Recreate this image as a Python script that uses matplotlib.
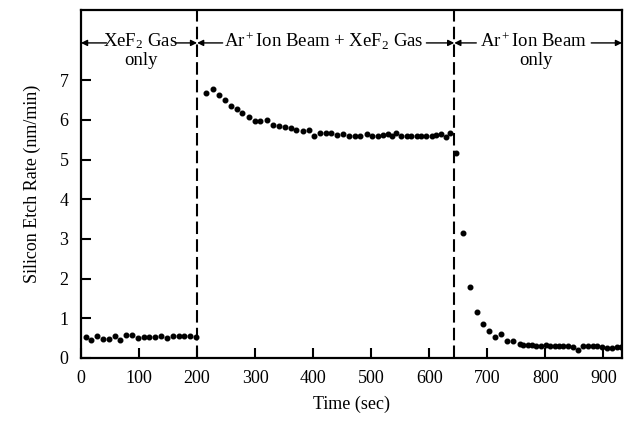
import matplotlib
matplotlib.use('Agg')
import matplotlib.pyplot as plt

plt.rcParams['font.family'] = ['Liberation Serif', 'DejaVu Serif']
plt.rcParams['mathtext.fontset'] = 'custom'
plt.rcParams['mathtext.rm'] = 'Liberation Serif'
plt.rcParams['mathtext.it'] = 'Liberation Serif:italic'

# XeF2 gas only
t_gas = [8, 18, 28, 38, 48, 58, 68, 78, 88, 98, 108, 118, 128, 138, 148,
         158, 168, 178, 188, 198]
r_gas = [0.52, 0.46, 0.56, 0.49, 0.49, 0.56, 0.45, 0.58, 0.58, 0.50,
         0.52, 0.53, 0.53, 0.55, 0.50, 0.55, 0.55, 0.55, 0.55, 0.52]

# Ar+ ion beam + XeF2 gas
t_both = [215, 228, 238, 248, 258, 268, 278, 290, 299, 309, 321, 331, 341,
          351, 361, 371, 382, 392, 402, 411, 422, 431, 441, 451, 462, 472,
          481, 492, 502, 512, 520, 529, 535, 543, 552, 561, 569, 578, 586,
          595, 604, 612, 621, 629, 636]
r_both = [6.67, 6.79, 6.64, 6.50, 6.36, 6.27, 6.18, 6.08, 5.97, 5.97, 6.01,
          5.87, 5.84, 5.83, 5.79, 5.74, 5.73, 5.74, 5.59, 5.68, 5.68, 5.66,
          5.63, 5.64, 5.60, 5.60, 5.60, 5.64, 5.60, 5.60, 5.62, 5.64, 5.59,
          5.68, 5.59, 5.59, 5.59, 5.59, 5.59, 5.59, 5.59, 5.62, 5.64, 5.57,
          5.68]

# Ar+ ion beam only
t_ion = [646, 658, 670, 683, 692, 703, 714, 724, 734, 745, 756, 762, 770,
         777, 784, 793, 801, 808, 816, 823, 830, 839, 847, 856, 864, 873,
         882, 889, 898, 906, 915, 923, 931]
r_ion = [5.17, 3.14, 1.78, 1.16, 0.86, 0.67, 0.52, 0.60, 0.44, 0.44, 0.35,
         0.33, 0.33, 0.33, 0.31, 0.31, 0.33, 0.31, 0.31, 0.31, 0.30, 0.29,
         0.27, 0.20, 0.29, 0.29, 0.29, 0.29, 0.27, 0.24, 0.26, 0.27, 0.27]

switch_times = [200, 643]
xticks = [0, 100, 200, 300, 400, 500, 600, 700, 800, 900]
yticks = [0, 1, 2, 3, 4, 5, 6, 7]

fig = plt.figure(figsize=(6.24, 4.23), dpi=100)
ax = fig.add_axes([0.1298, 0.1537, 0.867, 0.8227])

for t, r in [(t_gas, r_gas), (t_both, r_both), (t_ion, r_ion)]:
    ax.plot(t, r, 'o', color='black', ms=3.3, mec='black')

for s in switch_times:
    ax.axvline(s, color='black', lw=1.5, ls=(0, (6, 2.5)))

ax.set_xlim(0, 932)
ax.set_ylim(0, 8.77)
ax.set_xticks(xticks)
ax.set_yticks(yticks)
ax.tick_params(direction='in', length=7, width=1.5, labelsize=13)
ax.tick_params(axis='x', pad=9)
ax.tick_params(axis='y', pad=9)
for sp in ax.spines.values():
    sp.set_linewidth(1.6)

ax.set_xlabel('Time (sec)', fontsize=13, labelpad=6)
ax.set_ylabel('Silicon Etch Rate (nm/min)', fontsize=13, labelpad=13)

# region labels with arrows
ya = 7.94
arr = dict(arrowstyle='-|>', color='black', lw=1, mutation_scale=9,
           shrinkA=0, shrinkB=0)
for x0, x1 in [(44, 0), (162, 200), (244, 200), (595, 643), (681, 643),
               (879, 932)]:
    ax.annotate('', xy=(x1, ya), xytext=(x0, ya), arrowprops=arr)

fs = 13.5
ax.text(103, 7.98, 'XeF$_2$ Gas', ha='center', va='center', fontsize=fs)
ax.text(103, 7.5, 'only', ha='center', va='center', fontsize=fs)
ax.text(419, 7.98, 'Ar$^+$Ion Beam + XeF$_2$ Gas', ha='center', va='center',
        fontsize=fs)
ax.text(780, 7.98, 'Ar$^+$Ion Beam', ha='center', va='center', fontsize=fs)
ax.text(784, 7.5, 'only', ha='center', va='center', fontsize=fs)

fig.savefig('out.png', dpi=100)
